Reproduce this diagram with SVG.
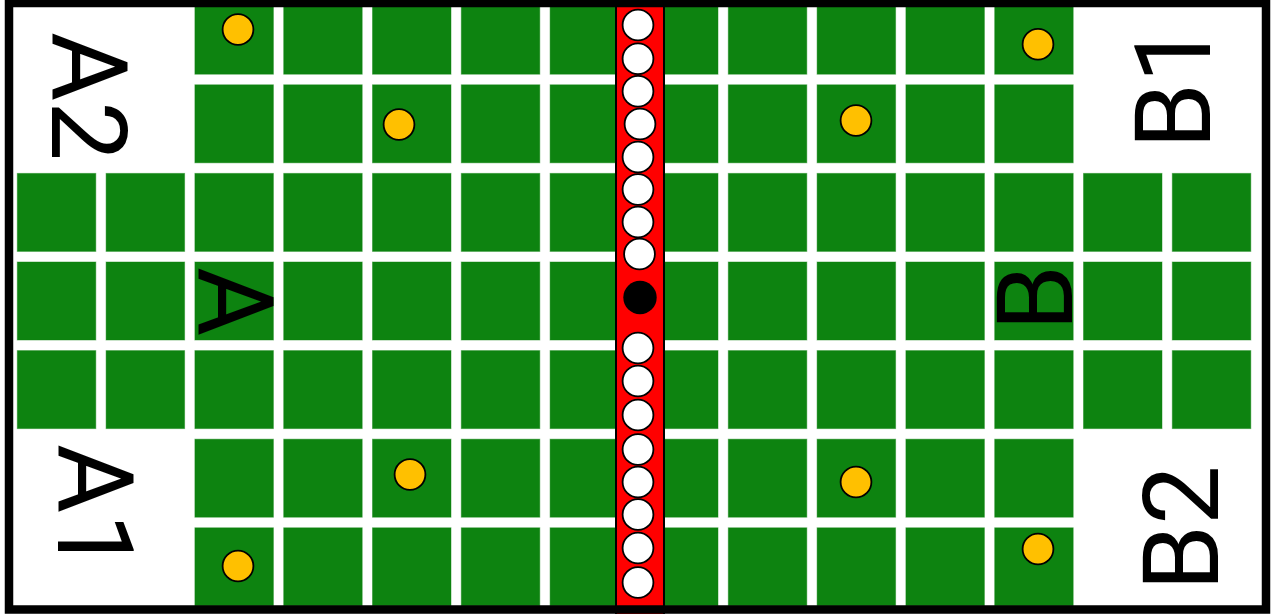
<svg xmlns="http://www.w3.org/2000/svg" xmlns:xlink="http://www.w3.org/1999/xlink" width="1271" height="614" viewBox="0 0 1271 614">
<style>
.sq{fill:#0d8310;stroke:#0d8310;stroke-opacity:0.45;stroke-width:1}
.peg{fill:#ffffff;stroke:#000;stroke-width:1.8}
.dot{fill:#ffc000;stroke:#000;stroke-width:1.8}
.lbl{font-family:Roboto,"Liberation Sans",Arial,sans-serif;font-size:106px;fill:#000}
</style>
<defs>
<rect id="sq" class="sq" width="78.5" height="78"/>
</defs>
<rect x="0" y="0" width="1271" height="614" fill="#ffffff"/>
<g id="board">
<g id="row0">
<use href="#sq" x="194.9" y="-3.8"/><use href="#sq" x="283.7" y="-3.8"/><use href="#sq" x="372.5" y="-3.8"/><use href="#sq" x="461.3" y="-3.8"/><use href="#sq" x="550.1" y="-3.8"/>
<use href="#sq" x="639.5" y="-3.8"/><use href="#sq" x="728.3" y="-3.8"/><use href="#sq" x="817.1" y="-3.8"/><use href="#sq" x="905.9" y="-3.8"/><use href="#sq" x="994.7" y="-3.8"/>
</g>
<g id="row1">
<use href="#sq" x="194.9" y="84.8"/><use href="#sq" x="283.7" y="84.8"/><use href="#sq" x="372.5" y="84.8"/><use href="#sq" x="461.3" y="84.8"/><use href="#sq" x="550.1" y="84.8"/>
<use href="#sq" x="639.5" y="84.8"/><use href="#sq" x="728.3" y="84.8"/><use href="#sq" x="817.1" y="84.8"/><use href="#sq" x="905.9" y="84.8"/><use href="#sq" x="994.7" y="84.8"/>
</g>
<g id="row2">
<use href="#sq" x="17.3" y="173.4"/><use href="#sq" x="106.1" y="173.4"/><use href="#sq" x="194.9" y="173.4"/><use href="#sq" x="283.7" y="173.4"/><use href="#sq" x="372.5" y="173.4"/><use href="#sq" x="461.3" y="173.4"/><use href="#sq" x="550.1" y="173.4"/>
<use href="#sq" x="639.5" y="173.4"/><use href="#sq" x="728.3" y="173.4"/><use href="#sq" x="817.1" y="173.4"/><use href="#sq" x="905.9" y="173.4"/><use href="#sq" x="994.7" y="173.4"/><use href="#sq" x="1083.5" y="173.4"/><use href="#sq" x="1172.3" y="173.4"/>
</g>
<g id="row3">
<use href="#sq" x="17.3" y="262"/><use href="#sq" x="106.1" y="262"/><use href="#sq" x="194.9" y="262"/><use href="#sq" x="283.7" y="262"/><use href="#sq" x="372.5" y="262"/><use href="#sq" x="461.3" y="262"/><use href="#sq" x="550.1" y="262"/>
<use href="#sq" x="639.5" y="262"/><use href="#sq" x="728.3" y="262"/><use href="#sq" x="817.1" y="262"/><use href="#sq" x="905.9" y="262"/><use href="#sq" x="994.7" y="262"/><use href="#sq" x="1083.5" y="262"/><use href="#sq" x="1172.3" y="262"/>
</g>
<g id="row4">
<use href="#sq" x="17.3" y="350.6"/><use href="#sq" x="106.1" y="350.6"/><use href="#sq" x="194.9" y="350.6"/><use href="#sq" x="283.7" y="350.6"/><use href="#sq" x="372.5" y="350.6"/><use href="#sq" x="461.3" y="350.6"/><use href="#sq" x="550.1" y="350.6"/>
<use href="#sq" x="639.5" y="350.6"/><use href="#sq" x="728.3" y="350.6"/><use href="#sq" x="817.1" y="350.6"/><use href="#sq" x="905.9" y="350.6"/><use href="#sq" x="994.7" y="350.6"/><use href="#sq" x="1083.5" y="350.6"/><use href="#sq" x="1172.3" y="350.6"/>
</g>
<g id="row5">
<use href="#sq" x="194.9" y="439.2"/><use href="#sq" x="283.7" y="439.2"/><use href="#sq" x="372.5" y="439.2"/><use href="#sq" x="461.3" y="439.2"/><use href="#sq" x="550.1" y="439.2"/>
<use href="#sq" x="639.5" y="439.2"/><use href="#sq" x="728.3" y="439.2"/><use href="#sq" x="817.1" y="439.2"/><use href="#sq" x="905.9" y="439.2"/><use href="#sq" x="994.7" y="439.2"/>
</g>
<g id="row6">
<use href="#sq" x="194.9" y="527.8"/><use href="#sq" x="283.7" y="527.8"/><use href="#sq" x="372.5" y="527.8"/><use href="#sq" x="461.3" y="527.8"/><use href="#sq" x="550.1" y="527.8"/>
<use href="#sq" x="639.5" y="527.8"/><use href="#sq" x="728.3" y="527.8"/><use href="#sq" x="817.1" y="527.8"/><use href="#sq" x="905.9" y="527.8"/><use href="#sq" x="994.7" y="527.8"/>
</g>
</g>
<g id="dots">
<circle class="dot" cx="238" cy="29.5" r="15.4"/>
<circle class="dot" cx="399" cy="124.5" r="15.4"/>
<circle class="dot" cx="856" cy="120.5" r="15.4"/>
<circle class="dot" cx="1038" cy="44.3" r="15.4"/>
<circle class="dot" cx="410" cy="474.5" r="15.4"/>
<circle class="dot" cx="856" cy="482" r="15.4"/>
<circle class="dot" cx="238" cy="566" r="15.4"/>
<circle class="dot" cx="1038" cy="549" r="15.4"/>
</g>
<g id="strip">
<rect x="616" y="-2" width="48" height="618" fill="#ff0000" stroke="#000" stroke-width="2"/>
<circle class="peg" cx="638" cy="25" r="15.4"/>
<circle class="peg" cx="638" cy="58.7" r="15.4"/>
<circle class="peg" cx="638" cy="91.3" r="15.4"/>
<circle class="peg" cx="640" cy="124" r="15.4"/>
<circle class="peg" cx="638" cy="157" r="15.4"/>
<circle class="peg" cx="638" cy="189.5" r="15.4"/>
<circle class="peg" cx="638" cy="222" r="15.4"/>
<circle class="peg" cx="639.5" cy="254" r="15.4"/>
<circle cx="640" cy="297.5" r="16.7" fill="#000"/>
<circle class="peg" cx="638" cy="348" r="15.4"/>
<circle class="peg" cx="638" cy="381" r="15.4"/>
<circle class="peg" cx="638" cy="415" r="15.4"/>
<circle class="peg" cx="638" cy="449.5" r="15.4"/>
<circle class="peg" cx="638" cy="482" r="15.4"/>
<circle class="peg" cx="638" cy="514.5" r="15.4"/>
<circle class="peg" cx="638" cy="548" r="15.4"/>
<circle class="peg" cx="638" cy="582.5" r="15.4"/>
</g>
<g id="labels">
<text class="lbl" transform="translate(52,32) rotate(90)">A2</text>
<text class="lbl" transform="translate(58,444) rotate(90)">A1</text>
<text class="lbl" transform="translate(198,267) rotate(90)">A</text>
<text class="lbl" transform="translate(1210,149) rotate(-90)">B1</text>
<text class="lbl" transform="translate(1218,591) rotate(-90)">B2</text>
<text class="lbl" transform="translate(1072,331) rotate(-90)">B</text>
</g>
<rect id="frame" x="9" y="3" width="1257" height="606.5" fill="none" stroke="#000" stroke-width="8.5"/>
</svg>
